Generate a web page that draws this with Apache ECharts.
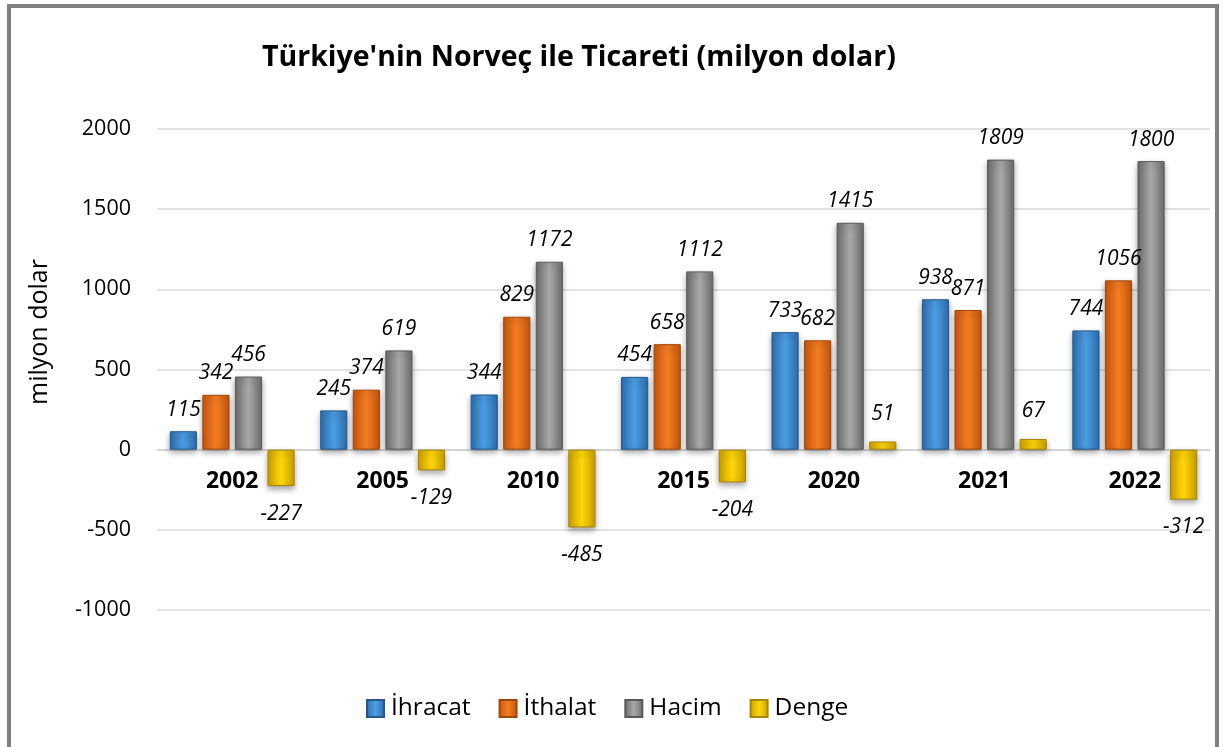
<!DOCTYPE html>
<html><head><meta charset="utf-8">
<script src="https://cdn.jsdelivr.net/npm/echarts@6/dist/echarts.min.js"></script>
<style>html,body{margin:0;padding:0;background:#fff}#c{width:1223px;height:747px}</style>
</head><body><div id="c"></div>
<script>
const categories = ['2002','2005','2010','2015','2020','2021','2022'];
const ihracat = [115,245,344,454,733,938,744];
const ithalat = [342,374,829,658,682,871,1056];
const hacim = [456,619,1172,1112,1415,1809,1800];
const denge = [-227,-129,-485,-204,51,67,-312];
const seriesNames = ['İhracat','İthalat','Hacim','Denge'];
const yTicks = [-1000,-500,0,500,1000,1500,2000];

const FONT = 'Open Sans';
function grad(edge, mid){
  return {type:'linear',x:0,y:0,x2:1,y2:0,colorStops:[
    {offset:0,color:edge},{offset:0.5,color:mid},{offset:1,color:edge}]};
}
const colors = [grad('#2c6eae','#4c9de2'), grad('#c4560e','#f47d22'), grad('#6c6c6c','#a9a9a9'), grad('#caa000','#ffd60a')];
const borders = ['#24598c','#a14608','#5a5a5a','#a88400'];
const data = [ihracat, ithalat, hacim, denge];
const GRID_BOTTOM = 137;

const chart = echarts.init(document.getElementById('c'), null, {renderer:'canvas'});
const option = {
  animation:false,
  textStyle:{fontFamily:FONT},
  title:{text:"Türkiye'nin Norveç ile Ticareti (milyon dolar)",left:257,top:38,
    textStyle:{fontFamily:FONT,fontWeight:'bold',fontSize:28.5,color:'#000'}},
  legend:{bottom:21,left:361,itemWidth:17,itemHeight:17,itemGap:28,icon:'rect',
    textStyle:{fontFamily:FONT,fontSize:24.5,color:'#000',padding:[0,0,0,2]},
    data:seriesNames},
  grid:{left:157,right:13,top:129,bottom:GRID_BOTTOM,containLabel:false},
  xAxis:{type:'category',data:categories,offset:0,
    axisLine:{onZero:false,lineStyle:{color:'#d0d0d0',width:1.5}},
    axisTick:{show:false},
    axisLabel:{fontFamily:FONT,fontWeight:'bold',fontSize:23,color:'#000',margin:20}},
  yAxis:{type:'value',min:yTicks[0],max:yTicks[yTicks.length-1],interval:500,
    axisLine:{show:false},axisTick:{show:false},
    axisLabel:{fontFamily:FONT,fontSize:21.5,color:'#000',margin:26,formatter:v=>String(v)},
    splitLine:{lineStyle:{color:'#d9d9d9',width:1.5}}},
  graphic:[
    {type:'rect',shape:{x:9,y:6,width:1208,height:800},style:{fill:'none',stroke:'#808080',lineWidth:4},z:-1},
    {type:'text',x:40,y:332,rotation:Math.PI/2,style:{text:'milyon dolar',fontFamily:FONT,fontSize:25,fill:'#000',align:'center',verticalAlign:'middle'}}
  ],
  series: seriesNames.map((n,i)=>({
    name:n,type:'bar',data:data[i],barGap:'20%',barCategoryGap:'17%',
    itemStyle:{color:colors[i],borderColor:borders[i],borderWidth:1,shadowColor:'rgba(0,0,0,0.35)',shadowBlur:6,shadowOffsetY:3},
    label:{show:true,position:i===3?'outside':'top',distance:i===3?17:11,fontFamily:FONT,fontStyle:'italic',fontSize:21,color:'#000',
      formatter:p=>String(p.value)}
  }))
};
chart.setOption(option);
const y0 = chart.convertToPixel({yAxisIndex:0}, 0);
const bottomY = 747 - GRID_BOTTOM;
chart.setOption({xAxis:{offset: y0 - bottomY}});
</script></body></html>
